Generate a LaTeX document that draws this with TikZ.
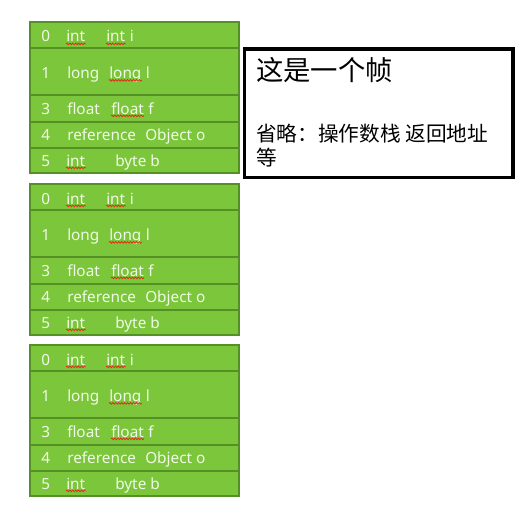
\documentclass[tikz,border=0pt]{standalone}
\usepackage{fontspec}
\setmainfont{Noto Sans}
\newfontfamily\cjk{Noto Sans CJK SC}
\usetikzlibrary{decorations.pathmorphing}
\definecolor{rowfill}{RGB}{124,198,60}
\definecolor{rowline}{RGB}{84,144,36}
\definecolor{rowtext}{RGB}{240,250,230}
\definecolor{squigred}{RGB}{225,45,20}
\tikzset{
 rowbox/.style={draw=rowline, fill=rowfill, line width=2.1pt, minimum width=156.75pt, inner sep=0pt},
 txt/.style={text=rowtext, font=\fontsize{11.5}{13}\selectfont, inner sep=0pt, anchor=base west},
 squig/.style={draw=squigred, line width=0.6pt, decorate, decoration={snake, segment length=2.2pt, amplitude=0.6pt}},
 frame/.style={draw=black, line width=2.5pt, minimum width=201.4pt, minimum height=96.4pt, inner sep=0pt},
 cjktxt/.style={anchor=base west, inner sep=0pt, text=black},
}
\begin{document}
\begin{tikzpicture}[x=0.75pt,y=-0.75pt]
\useasboundingbox (0,0) rectangle (521,510);
\foreach \b/\t in {1/22,2/184,3/345}{
  % row boxes
  \node[rowbox, minimum height=19.5pt]  (b\b-r0) at (134.5,\t+13) {};
  \node[rowbox, minimum height=35.25pt] (b\b-r1) at (134.5,\t+49.5) {};
  \node[rowbox, minimum height=20.25pt] (b\b-r3) at (134.5,\t+86.5) {};
  \node[rowbox, minimum height=19.5pt]  (b\b-r4) at (134.5,\t+113) {};
  \node[rowbox, minimum height=18.75pt] (b\b-r5) at (134.5,\t+138.5) {};
  % row 0
  \node[txt] (b\b-n0) at (41,\t+20) {0};
  \node[txt] (b\b-t0) at (66,\t+20) {int};
  \node[txt] (b\b-m0a) at (106,\t+20) {int};
  \node[txt] (b\b-m0b) at ([xshift=3pt]b\b-m0a.base east) {i};
  % row 1
  \node[txt] (b\b-n1) at (41,\t+56.5) {1};
  \node[txt] (b\b-t1) at (67,\t+56.5) {long};
  \node[txt] (b\b-m1a) at (109,\t+56.5) {long};
  \node[txt] (b\b-m1b) at ([xshift=3pt]b\b-m1a.base east) {l};
  % row 3
  \node[txt] (b\b-n3) at (41,\t+92) {3};
  \node[txt] (b\b-t3) at (67,\t+92) {float};
  \node[txt] (b\b-m3a) at (111,\t+92) {float};
  \node[txt] (b\b-m3b) at ([xshift=3pt]b\b-m3a.base east) {f};
  % row 4
  \node[txt] (b\b-n4) at (41,\t+118) {4};
  \node[txt] (b\b-t4) at (67,\t+118) {reference};
  \node[txt] (b\b-m4) at (145,\t+118) {Object o};
  % row 5
  \node[txt] (b\b-n5) at (41,\t+144) {5};
  \node[txt] (b\b-t5) at (66,\t+144) {int};
  \node[txt] (b\b-m5) at (115,\t+144) {byte b};
  % spell-check squiggles
  \draw[squig] ([yshift=-1.4pt]b\b-t0.base west) -- ([yshift=-1.4pt]b\b-t0.base east);
  \draw[squig] ([yshift=-1.4pt]b\b-m0a.base west) -- ([yshift=-1.4pt]b\b-m0a.base east);
  \draw[squig] ([yshift=-1.4pt]b\b-m1a.base west) -- ([yshift=-1.4pt]b\b-m1a.base east);
  \draw[squig] ([yshift=-1.4pt]b\b-m3a.base west) -- ([yshift=-1.4pt]b\b-m3a.base east);
  \draw[squig] ([yshift=-1.4pt]b\b-t5.base west) -- ([yshift=-1.4pt]b\b-t5.base east);
}
% frame box
\node[frame] (frame) at (378.75,113.25) {};
\node[cjktxt, font=\cjk\fontsize{20.5}{24}\selectfont] (title) at (256,80) {这是一个帧};
\node[cjktxt, font=\cjk\fontsize{15.5}{18}\selectfont] (body1) at (256,141) {省略：操作数栈 返回地址};
\node[cjktxt, font=\cjk\fontsize{15.5}{18}\selectfont] (body2) at (256,165) {等};
\end{tikzpicture}
\end{document}
